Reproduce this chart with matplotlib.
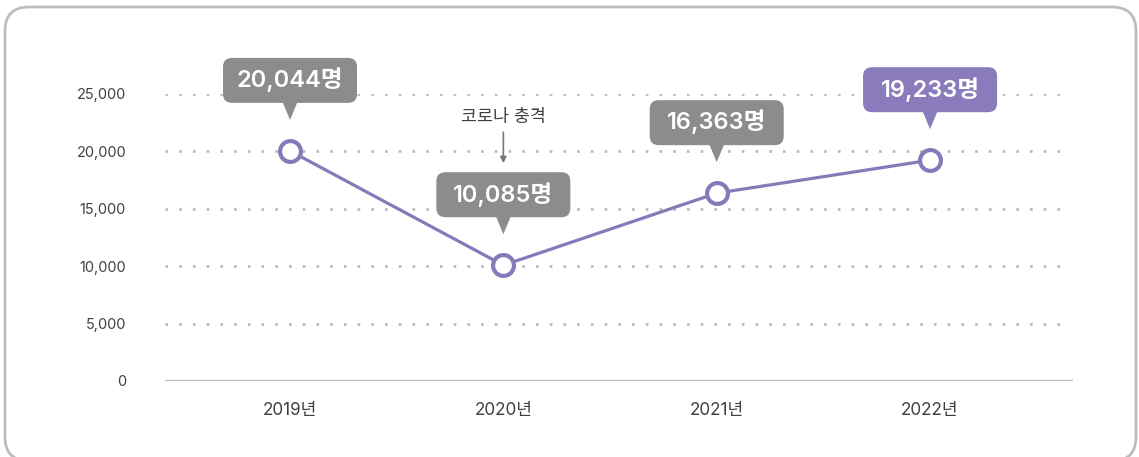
import matplotlib
matplotlib.use("Agg")
import matplotlib.pyplot as plt
import matplotlib.transforms as mtransforms
from matplotlib.patches import FancyBboxPatch, Polygon

plt.rcParams['font.family'] = ['Inter', 'Noto Sans CJK KR', 'DejaVu Sans']

years = ['2019년', '2020년', '2021년', '2022년']
values = [20044, 10085, 16363, 19233]
labels = ['20,044명', '10,085명', '16,363명', '19,233명']
yticks = [0, 5000, 10000, 15000, 20000, 25000]
ytick_labels = ['0', '5,000', '10,000', '15,000', '20,000', '25,000']
note_text = '코로나 충격'
note_index = 1

LINE = '#8879b9'
GRAY_BOX = '#8c8c8c'
PURPLE_BOX = '#8a7bbd'
DPI = 100
W, H = 1139, 457

fig = plt.figure(figsize=(W / DPI, H / DPI), dpi=DPI)
fig.patch.set_facecolor('white')

# rounded border in pixel coordinates
pix = mtransforms.Affine2D().scale(1 / W, 1 / H) + fig.transFigure
border = FancyBboxPatch((5, -4), 1131, 454,
                        boxstyle='round,pad=0,rounding_size=24',
                        transform=pix, fc='none', ec='#bdbdbd',
                        lw=2.0, clip_on=False)
fig.add_artist(border)

ax = fig.add_axes([165 / W, 76 / H, (1073 - 165) / W, 287 / H])
ax.set_facecolor('none')
x = list(range(len(years)))
ax.set_xlim(-0.586, 3.67)
ax.set_ylim(0, 25000)

for yv in yticks[1:]:
    ax.plot([-0.586, 3.635], [yv, yv], color='#b8b8b8', lw=1.9,
            linestyle=(0, (1, 4.2)), zorder=1)
ax.axhline(0, color='#b8b8b8', lw=1.6, zorder=1)

for s in ax.spines.values():
    s.set_visible(False)

ax.set_yticks(yticks)
ax.set_yticklabels(ytick_labels)
ax.set_xticks(x)
ax.set_xticklabels(years)
ax.tick_params(axis='y', length=0, pad=28, labelsize=10.5, labelcolor='#404040')
ax.tick_params(axis='x', length=0, pad=15, labelsize=12.3, labelcolor='#404040')

ax.plot(x, values, color=LINE, lw=2.3, zorder=3, clip_on=False)
ax.plot(x, values, 'o', ms=15, mfc='white', mec=LINE, mew=3.0, zorder=4, clip_on=False)

for i, (xv, yv, lab) in enumerate(zip(x, values, labels)):
    t = mtransforms.IdentityTransform() + mtransforms.ScaledTranslation(xv, yv, ax.transData)
    fc = PURPLE_BOX if i == len(x) - 1 else GRAY_BOX
    box = FancyBboxPatch((-67, 48), 134, 45, boxstyle='round,pad=0,rounding_size=9',
                         fc=fc, ec='none', transform=t, clip_on=False, zorder=5)
    ax.add_artist(box)
    tri = Polygon([(-7.5, 49), (7.5, 49), (0, 31)], closed=True, fc=fc, ec='none',
                  transform=t, clip_on=False, zorder=5)
    ax.add_artist(tri)
    ax.text(0, 71, lab, transform=t, ha='center', va='center', color='white',
            fontsize=17, fontweight='semibold', zorder=6, clip_on=False)

# annotation
xv, yv = x[note_index], values[note_index]
t = mtransforms.IdentityTransform() + mtransforms.ScaledTranslation(xv, yv, ax.transData)
ax.text(0, 148, note_text, transform=t, ha='center', va='center', color='#404040',
        fontsize=12.5, clip_on=False)
ax.annotate('', xy=(0, 102), xytext=(0, 133), xycoords=t, textcoords=t,
            arrowprops=dict(arrowstyle='-|>', color='#777777', lw=1.2,
                            mutation_scale=9, shrinkA=0, shrinkB=0))

fig.savefig('out.png', dpi=DPI)
